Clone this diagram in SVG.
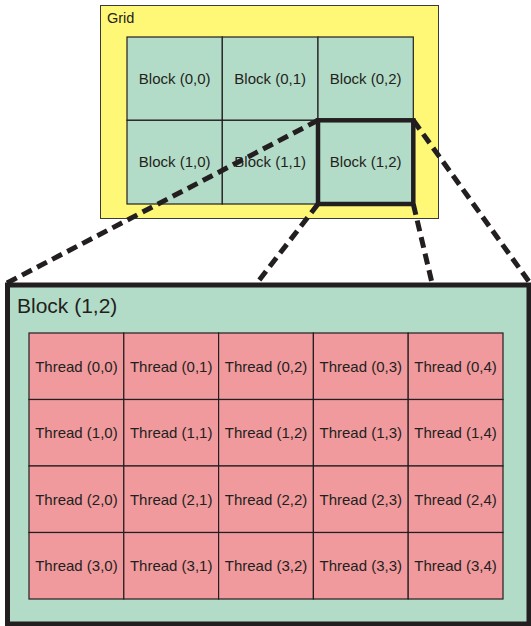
<svg xmlns="http://www.w3.org/2000/svg" width="531" height="626" viewBox="0 0 531 626">
<style>
text{font-family:"Liberation Sans",Arial,sans-serif;fill:#231F20}
.grid{fill:#FFF776;stroke:#3a3a3a;stroke-width:1}
.blk{fill:#B3DCC8;stroke:#231F20;stroke-width:1.2}
.thr{fill:#F09A9D;stroke:#231F20;stroke-width:1.2}
.lbl{font-size:15px;text-anchor:middle}
.dash{fill:none;stroke:#231F20;stroke-width:5;stroke-dasharray:11 6}
.thick{fill:none;stroke:#231F20;stroke-width:4.5}
</style>
<g id="grid">
<rect class="grid" x="100.5" y="5.5" width="338" height="213"/>
<text x="107" y="23" font-size="14.5">Grid</text>
</g>
<g id="block-0-0"><rect class="blk" x="127" y="37" width="95.3" height="83.3"/><text class="lbl" x="174.7" y="84">Block (0,0)</text></g>
<g id="block-0-1"><rect class="blk" x="222.3" y="37" width="95.7" height="83.3"/><text class="lbl" x="270.2" y="84">Block (0,1)</text></g>
<g id="block-0-2"><rect class="blk" x="318" y="37" width="95.3" height="83.3"/><text class="lbl" x="365.7" y="84">Block (0,2)</text></g>
<g id="block-1-0"><rect class="blk" x="127" y="120.3" width="95.3" height="83.7"/><text class="lbl" x="174.7" y="167">Block (1,0)</text></g>
<g id="block-1-1"><rect class="blk" x="222.3" y="120.3" width="95.7" height="83.7"/><text class="lbl" x="270.2" y="167">Block (1,1)</text></g>
<g id="block-1-2"><rect class="blk" x="318" y="120.3" width="95.3" height="83.7"/><text class="lbl" x="365.7" y="167">Block (1,2)</text><rect class="thick" x="318" y="120.3" width="95.3" height="83.7"/></g>
<g id="connectors">
<line class="dash" x1="318" y1="120.3" x2="7" y2="283"/>
<line class="dash" x1="318" y1="204" x2="257" y2="283"/>
<line class="dash" x1="413.3" y1="204" x2="432" y2="283"/>
<line class="dash" x1="413.3" y1="120.3" x2="530" y2="283"/>
</g>
<g id="big-block">
<rect x="7.5" y="285" width="521.5" height="339" fill="#B3DCC8" stroke="#231F20" stroke-width="5"/>
<text x="17" y="313" font-size="21">Block (1,2)</text>
</g>
<g id="threads">
<g id="thread-0-0"><rect class="thr" x="29" y="333" width="94.8" height="66.5"/><text class="lbl" x="76.4" y="371.5">Thread (0,0)</text></g>
<g id="thread-0-1"><rect class="thr" x="123.8" y="333" width="94.8" height="66.5"/><text class="lbl" x="171.2" y="371.5">Thread (0,1)</text></g>
<g id="thread-0-2"><rect class="thr" x="218.6" y="333" width="94.8" height="66.5"/><text class="lbl" x="266" y="371.5">Thread (0,2)</text></g>
<g id="thread-0-3"><rect class="thr" x="313.4" y="333" width="94.8" height="66.5"/><text class="lbl" x="360.8" y="371.5">Thread (0,3)</text></g>
<g id="thread-0-4"><rect class="thr" x="408.2" y="333" width="94.8" height="66.5"/><text class="lbl" x="455.6" y="371.5">Thread (0,4)</text></g>
<g id="thread-1-0"><rect class="thr" x="29" y="399.5" width="94.8" height="66.5"/><text class="lbl" x="76.4" y="438">Thread (1,0)</text></g>
<g id="thread-1-1"><rect class="thr" x="123.8" y="399.5" width="94.8" height="66.5"/><text class="lbl" x="171.2" y="438">Thread (1,1)</text></g>
<g id="thread-1-2"><rect class="thr" x="218.6" y="399.5" width="94.8" height="66.5"/><text class="lbl" x="266" y="438">Thread (1,2)</text></g>
<g id="thread-1-3"><rect class="thr" x="313.4" y="399.5" width="94.8" height="66.5"/><text class="lbl" x="360.8" y="438">Thread (1,3)</text></g>
<g id="thread-1-4"><rect class="thr" x="408.2" y="399.5" width="94.8" height="66.5"/><text class="lbl" x="455.6" y="438">Thread (1,4)</text></g>
<g id="thread-2-0"><rect class="thr" x="29" y="466" width="94.8" height="66.5"/><text class="lbl" x="76.4" y="504.5">Thread (2,0)</text></g>
<g id="thread-2-1"><rect class="thr" x="123.8" y="466" width="94.8" height="66.5"/><text class="lbl" x="171.2" y="504.5">Thread (2,1)</text></g>
<g id="thread-2-2"><rect class="thr" x="218.6" y="466" width="94.8" height="66.5"/><text class="lbl" x="266" y="504.5">Thread (2,2)</text></g>
<g id="thread-2-3"><rect class="thr" x="313.4" y="466" width="94.8" height="66.5"/><text class="lbl" x="360.8" y="504.5">Thread (2,3)</text></g>
<g id="thread-2-4"><rect class="thr" x="408.2" y="466" width="94.8" height="66.5"/><text class="lbl" x="455.6" y="504.5">Thread (2,4)</text></g>
<g id="thread-3-0"><rect class="thr" x="29" y="532.5" width="94.8" height="66.5"/><text class="lbl" x="76.4" y="571">Thread (3,0)</text></g>
<g id="thread-3-1"><rect class="thr" x="123.8" y="532.5" width="94.8" height="66.5"/><text class="lbl" x="171.2" y="571">Thread (3,1)</text></g>
<g id="thread-3-2"><rect class="thr" x="218.6" y="532.5" width="94.8" height="66.5"/><text class="lbl" x="266" y="571">Thread (3,2)</text></g>
<g id="thread-3-3"><rect class="thr" x="313.4" y="532.5" width="94.8" height="66.5"/><text class="lbl" x="360.8" y="571">Thread (3,3)</text></g>
<g id="thread-3-4"><rect class="thr" x="408.2" y="532.5" width="94.8" height="66.5"/><text class="lbl" x="455.6" y="571">Thread (3,4)</text></g>
</g>
</svg>
